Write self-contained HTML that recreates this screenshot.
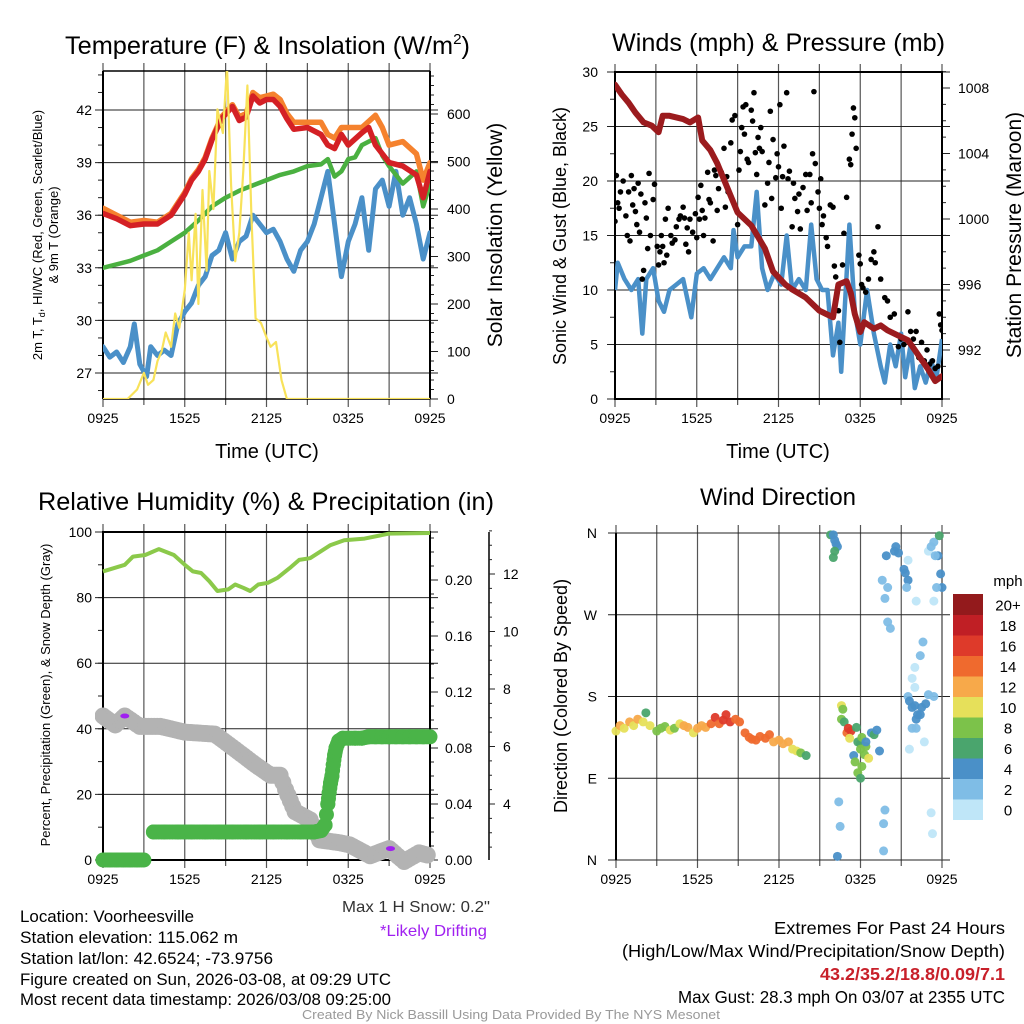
<!DOCTYPE html>
<html><head><meta charset="utf-8"><style>
html,body{margin:0;padding:0;background:#fff}
svg{display:block;font-family:"Liberation Sans",Arial,sans-serif}
</style></head><body>
<svg id="c" width="1024" height="1024" viewBox="0 0 1024 1024" xmlns="http://www.w3.org/2000/svg">
<defs>
<clipPath id="c1"><rect x="103" y="71" width="327" height="328"/></clipPath>
<clipPath id="c2"><rect x="615" y="72" width="327" height="327"/></clipPath>
<clipPath id="c3"><rect x="95" y="525" width="345" height="345"/></clipPath>
<clipPath id="c4"><rect x="606" y="525" width="345" height="345"/></clipPath>
</defs>
<g id="g1"></g>
<g id="g2"></g>
<g id="g3"></g>
<g id="g4"></g>
<text x="65" y="54" font-size="25" textLength="405" lengthAdjust="spacingAndGlyphs">Temperature (F) &amp; Insolation (W/m<tspan font-size="15" dy="-10">2</tspan><tspan dy="10">)</tspan></text>
<text x="612" y="51" font-size="25" textLength="333" lengthAdjust="spacingAndGlyphs">Winds (mph) &amp; Pressure (mb)</text>
<text x="38" y="510" font-size="25" textLength="456" lengthAdjust="spacingAndGlyphs">Relative Humidity (%) &amp; Precipitation (in)</text>
<text x="778" y="505" font-size="24" text-anchor="middle">Wind Direction</text>
<text x="267" y="458" font-size="20" text-anchor="middle">Time (UTC)</text>
<text x="778" y="458" font-size="20" text-anchor="middle">Time (UTC)</text>
<text transform="translate(42,235) rotate(-90)" font-size="13" text-anchor="middle">2m T, T<tspan font-size="9" dy="3">d</tspan><tspan dy="-3">, HI/WC (Red, Green, Scarlet/Blue)</tspan></text>
<text transform="translate(58,235) rotate(-90)" font-size="13" text-anchor="middle">&amp; 9m T (Orange)</text>
<text transform="translate(502,235) rotate(-90)" font-size="21" text-anchor="middle">Solar Insolation (Yellow)</text>
<text transform="translate(566,236) rotate(-90)" font-size="18" text-anchor="middle">Sonic Wind &amp; Gust (Blue, Black)</text>
<text transform="translate(1021,235) rotate(-90)" font-size="21" text-anchor="middle">Station Pressure (Maroon)</text>
<text transform="translate(50,695) rotate(-90)" font-size="13" text-anchor="middle">Percent, Precipitation (Green), &amp; Snow Depth (Gray)</text>
<text transform="translate(567,696) rotate(-90)" font-size="18" text-anchor="middle">Direction (Colored By Speed)</text>
<text x="342" y="912" font-size="16" fill="#333" textLength="148" lengthAdjust="spacingAndGlyphs">Max 1 H Snow: 0.2"</text>
<text x="380" y="936" font-size="16" fill="#a020f0" textLength="107" lengthAdjust="spacingAndGlyphs">*Likely Drifting</text>
<g font-size="16.5">
<text x="20" y="922" textLength="174" lengthAdjust="spacingAndGlyphs">Location: Voorheesville</text>
<text x="20" y="943" textLength="218" lengthAdjust="spacingAndGlyphs">Station elevation: 115.062 m</text>
<text x="20" y="964" textLength="253" lengthAdjust="spacingAndGlyphs">Station lat/lon: 42.6524; -73.9756</text>
<text x="20" y="985" textLength="371" lengthAdjust="spacingAndGlyphs">Figure created on Sun, 2026-03-08, at 09:29 UTC</text>
<text x="20" y="1005" textLength="371" lengthAdjust="spacingAndGlyphs">Most recent data timestamp: 2026/03/08 09:25:00</text>
</g>
<g font-size="17.5">
<text x="774" y="934" textLength="231" lengthAdjust="spacingAndGlyphs">Extremes For Past 24 Hours</text>
<text x="622" y="957" textLength="383" lengthAdjust="spacingAndGlyphs">(High/Low/Max Wind/Precipitation/Snow Depth)</text>
<text x="820" y="980" fill="#c8202a" font-weight="bold" textLength="185" lengthAdjust="spacingAndGlyphs">43.2/35.2/18.8/0.09/7.1</text>
<text x="678" y="1003" textLength="327" lengthAdjust="spacingAndGlyphs">Max Gust: 28.3 mph On 03/07 at 2355 UTC</text>
</g>
<text x="302" y="1019" font-size="13" fill="#999" textLength="418" lengthAdjust="spacingAndGlyphs">Created By Nick Bassill Using Data Provided By The NYS Mesonet</text>
</svg>
<script>
// ---- Temperature panel data (hours since 0925, value) ----
const redH=[0,1,2,3,4,5,6,6.5,7,7.5,8,8.7,9.5,10,10.5,11,11.5,12,12.5,13,13.5,14,15,16,16.5,17,17.5,18,19,19.5,20,20.5,21,22,23,23.5,24];
const redV=[36.1,35.8,35.4,35.5,35.5,36.0,37.2,38.0,38.5,39.2,40.3,41.5,42.2,41.4,41.6,42.8,42.4,42.6,42.6,42.2,41.5,40.9,41.0,40.6,40.0,39.8,40.6,40.0,40.7,41.0,40.0,39.5,39.0,38.8,38.3,37.0,38.5];
const orgH=[0,1,2,3,4,5,6,6.5,7,7.5,8,8.7,9.5,10,10.5,11,11.5,12,12.5,13,13.5,14,15,16,16.5,17,17.5,18,19,20,20.5,21,22,23,23.5,24];
const orgV=[36.4,36.0,35.6,35.7,35.6,36.1,37.3,38.1,38.6,39.3,40.4,41.6,42.3,41.6,41.8,43.0,42.7,42.8,42.9,42.6,41.8,41.3,41.3,41.3,40.6,40.4,41.0,41.0,41.0,41.7,41.0,40.0,40.2,39.5,38.0,39.0];
const grnH=[0,2,3,4,5,6,7,8,9,10,11,12,13,14,15,16,16.5,17,17.5,18,18.5,19,20,20.5,21,22,23,23.5,24];
const grnV=[33,33.4,33.7,34.0,34.5,35.0,35.7,36.5,37.0,37.4,37.7,38.0,38.3,38.5,38.8,38.9,39.2,38.2,38.5,39.2,39.3,40.0,40.4,39.4,38.8,37.8,38.5,36.5,37.8];
const bluH=[0,0.5,1,1.5,2,2.3,2.7,3.2,3.5,4,4.5,5,5.5,6,6.5,7,7.5,8,8.5,9,9.5,10,10.5,11,11.5,12,12.5,13,13.5,14,14.5,15,15.5,16,16.5,17,17.5,18,18.5,19,19.5,20,20.5,21,21.5,22,22.5,23,23.5,24];
const bluV=[28.5,27.9,28.2,27.6,28.5,29.8,27.5,26.8,28.5,28.0,28.3,28.0,29.8,30.5,31.0,32.0,32.5,33.7,34.0,35.0,33.5,34.5,34.8,36.0,35.5,35.0,35.2,34.5,33.5,32.8,34.0,34.5,35.5,37.0,38.5,35.5,32.5,34.5,35.5,37.0,34.0,37.5,38.0,36.5,38.5,36.0,37.0,35.5,33.5,35.0];
const solH=[0,1.8,2.5,3,3.3,3.7,4,4.3,4.6,5,5.3,5.6,6,6.3,6.5,6.8,7,7.3,7.6,7.8,8.1,8.4,8.8,9.1,9.4,9.7,10,10.3,10.6,10.9,11.2,11.6,12,12.3,12.7,13.1,13.5,24];
const solV=[0,0,20,55,30,40,80,100,140,110,180,150,230,350,250,390,200,440,270,480,400,610,560,700,450,290,350,480,660,380,170,160,130,110,120,40,0,0];
const tempTicks=[27,30,33,36,39,42];
const solarTicks=[0,100,200,300,400,500,600];
const timeLabels=["0925","1525","2125","0325","0925"];
// ---- Wind panel data ----
const wndH=[0,0.2,0.7,1.2,1.7,2,2.3,2.8,3.2,3.6,4,4.5,5,5.6,6,6.5,7,7.5,8,8.5,8.7,9,9.5,10,10.4,10.8,11.2,11.7,12.2,12.6,13,13.5,14,14.4,14.8,15.2,15.6,16,16.4,16.6,17.2,17.6,18,18.5,19,19.5,19.8,20.2,20.6,21,21.3,21.7,22,22.4,22.8,23.2,23.6,24];
const wndV=[10,12.5,11,10,11,6,11,12,9,8,10,10.5,11,7.5,11.5,12,11,12,13,12,15.5,13,14,14,19,12,10,11.5,10.5,15,10,11,10,16,11,10,10,4,7,2.5,16,8,5,10,6,3,1.5,5,3,6,2,5,1,3,1.5,3.5,2,5.5];
const gstH=[0,0.1,0.2,0.3,0.4,0.6,0.8,0.9,1,1.1,1.2,1.3,1.4,1.5,1.6,1.7,1.8,1.9,2,2.1,2.2,2.3,2.4,2.5,2.6,2.8,2.9,3.1,3.2,3.3,3.4,3.5,3.6,3.7,3.8,3.9,4.1,4.2,4.4,4.5,4.7,4.8,5,5.1,5.2,5.3,5.4,5.5,5.7,5.9,6,6.1,6.2,6.3,6.4,6.5,6.6,6.8,6.9,7,7.2,7.3,7.4,7.5,7.6,7.8,8,8.1,8.2,8.3,8.5,8.6,8.8,9,9.1,9.2,9.3,9.4,9.5,9.6,9.7,9.8,10,10.1,10.2,10.3,10.4,10.5,10.6,10.7,10.8,11,11.2,11.3,11.4,11.5,11.6,11.8,11.9,12,12.1,12.2,12.3,12.4,12.6,12.7,12.8,13,13.1,13.2,13.4,13.5,13.6,13.8,14,14.1,14.3,14.4,14.5,14.6,14.7,14.9,15,15.1,15.2,15.3,15.5,15.6,15.8,16,16.1,16.2,16.4,16.5,16.7,16.8,17,17.2,17.3,17.4,17.5,17.6,17.7,17.9,18,18.1,18.2,18.4,18.6,18.8,19,19.1,19.3,19.5,19.8,20,20.2,20.5,20.8,21,21.2,21.5,21.7,21.9,22.1,22.3,22.5,22.7,22.9,23.1,23.3,23.5,23.7,23.8,23.9,24];
const gstV=[16.3,20.5,18,17.5,19,20,16.8,15,19,14.5,20.5,17.8,19.3,17.2,16,19.8,15.3,18.8,11,11.8,18,16.6,13.8,20.7,15,18.3,19.7,14,12.3,13.5,15,14,12.5,16.5,13.2,17.5,15,14.3,14.6,15.8,16.5,16.8,17.6,16.6,14.2,15.7,13.5,16.5,15.3,17,14.8,18.5,16.5,19.6,17.3,15,16.6,20.8,18.3,18,14.5,21,20.5,17.3,19.3,20.8,23,17.6,20.4,19,23.5,25.6,26,16,21,22.7,24.9,26.8,24.3,27,22,21.7,26.5,25.5,28.1,22.6,20.6,24,23,24.9,22.7,17.8,19.8,21.7,26.4,18.4,23.8,20.3,22.5,21.3,27,17.5,20.4,23.2,28.1,20.2,20.9,15.8,19.8,18.4,17.2,18.8,15.6,19.4,20.6,17.3,20.6,18,22.5,28.2,21.6,19,17.5,20.2,16,16.8,14.8,14,17.8,17.6,12.2,11.2,8.1,5.2,12.3,15.2,18.5,22,21.5,24.3,26.7,25.8,23,13.2,12.4,10.5,10.2,9.8,11,12.8,13.5,12.5,15.8,11,9.3,9,7.5,7.8,4.8,5.5,5,8,6.2,5.5,6.2,3.8,5.2,3.5,4.5,3.2,3.5,2.8,3,7.8,6.8,6.3];
const prsH=[0,0.5,1,1.5,2.1,2.7,3.2,3.5,4,5,5.5,6.1,6.4,7,7.5,8,8.5,9,10,11,11.6,12.5,13,14,15,15.5,16,16.4,17,17.3,17.6,18,18.3,19,19.5,20,21,21.5,22,22.5,23,23.5,24];
const prsV=[1008.2,1007.6,1007.1,1006.5,1005.9,1005.7,1005.3,1006.3,1006.3,1006.1,1005.9,1006.2,1004.8,1004.2,1003.4,1002.4,1001.4,1000.4,999.6,998.2,996.8,996.0,995.7,995.2,994.4,994.2,994.0,996.0,996.2,995.5,994.2,993.1,993.7,993.3,993.5,993.2,992.8,992.6,992.0,991.4,990.8,990.1,990.4];
const windTicks=[0,5,10,15,20,25,30];
const presTicks=[992,996,1000,1004,1008];
// ---- Humidity panel data ----
const rhH=[0,1.6,2.2,3.1,4.1,5.2,6,6.6,7.2,7.8,8.4,9.2,9.7,10.3,10.8,11.4,12.1,12.8,13.7,14.4,15.2,16.7,17.7,19.2,21,24];
const rhV=[88,90,92.5,93,94.8,93,90,88,87.5,85,82,82.5,84,83,82,84,84.5,86,89,91.5,92,96,97.5,98,99.5,99.7];
const pcpH=[0,0.5,1,1.5,2,2.5,3,3.7,4.5,5.5,6.5,7.5,8.5,9.5,10.5,11.5,12.5,13.5,14.5,15.5,16,16.3,16.5,16.6,16.7,16.8,16.9,17,17.1,17.3,17.6,18,18.5,19,19.5,20,20.5,21,21.5,22,22.5,23,23.5,24];
const pcpV=[0,0,0,0,0,0,0,0.02,0.02,0.02,0.02,0.02,0.02,0.02,0.02,0.02,0.02,0.02,0.02,0.02,0.021,0.025,0.04,0.048,0.055,0.06,0.068,0.075,0.08,0.085,0.087,0.087,0.087,0.087,0.088,0.088,0.088,0.088,0.088,0.088,0.088,0.088,0.088,0.088];
const snowH=[0,0.9,1.6,2.7,4.2,6,8.2,9.7,11.2,12.3,13,13.4,14.1,15.2,15.9,17.4,18.1,19.6,21,22.1,23.2,24];
const snowV=[7.06,6.75,7.06,6.7,6.7,6.5,6.43,5.9,5.36,5.0,5.0,4.5,3.73,3.45,2.75,2.65,2.58,2.2,2.45,2.0,2.3,2.2];
const driftH=[1.6,21.1];
const driftV=[7.06,2.45];
const rhTicks=[0,20,40,60,80,100];
const pcpTicks=[0,0.04,0.08,0.12,0.16,0.20];
const snowTicks=[4,6,8,10,12];
// ---- Wind direction data ----
const dirH=[0,0.3,0.6,1,1.3,1.6,2,2.2,2.5,3,3.3,3.6,4,4.3,4.7,5,5.3,5.7,6,6.3,6.6,7,7.3,7.6,7.9,8.1,8.4,8.8,9.1,9.5,9.8,10,10.3,10.6,11,11.3,11.6,12,12.3,12.7,13,13.3,13.6,14,15.8,16,16.1,16.2,16.3,16.1,16,16.4,16.5,16.3,16.6,16.7,16.6,16.8,17,17.1,17.3,17.2,17.7,17.8,17.5,17.6,18,18.1,18,18.4,18.3,18.6,17.8,18.1,18,18.4,18.8,19,19.2,19.4,19.6,19.8,20,20,20.2,19.9,20.5,20.6,20.8,21.2,21.3,21.5,21.4,19.8,19.7,19.7,21.5,21.6,21.8,22,22.2,22.1,22.5,22.8,21.8,22.1,22.4,21.6,21.8,22,22.6,22.4,22,22.1,23.4,23,22.7,21.5,23,23.2,23.4,23.8,23.7,23.5,23.9,24,23.6,23.4,23.2,23.3];
const dirV=[142,148,145,152,148,155,152,162,148,142,145,147,143,145,150,148,146,140,145,148,146,150,157,150,154,160,152,155,152,140,135,133,132,136,134,138,130,132,128,130,122,120,118,115,358,358,352,348,345,340,333,64,37,4,170,166,155,152,140,145,142,134,146,130,115,108,128,135,122,125,116,112,96,103,90,130,140,138,143,120,308,288,300,262,255,335,340,345,338,320,316,308,300,55,40,10,180,175,168,170,160,155,168,172,145,145,160,122,200,190,240,225,212,285,180,182,130,330,340,345,350,357,335,335,315,300,300,285,52,29];
const dirS=[11,12,11,12,10,12,11,6,10,8,9,8,10,9,11,12,12,11,12,13,12,14,16,15,17,17,16,15,14,14,14,15,14,14,15,14,13,13,12,13,11,10,8,7,6,4,4,4,4,6,6,3,3,4,10,8,8,7,14,16,16,10,6,6,4,8,7,8,8,8,8,10,8,8,6,4,4,6,4,4,2,2,2,2,2,4,4,4,4,4,4,4,2,2,2,2,2,4,4,4,4,4,4,4,2,2,4,0,0,0,2,2,0,0,2,2,0,0,0,2,2,6,4,2,4,4,2,0,0,0];
const dirTickLabels=["N","E","S","W","N"];
const speedBins=["0","2","4","6","8","10","12","14","16","18","20+"];
const speedColors=["#bfe6f8","#7fbde6","#4a90c8","#4aa56d","#7cc24a","#e6e05a","#f7a94a","#ef6a2e","#de3a2a","#c01f25","#931a1c"];

const NS="http://www.w3.org/2000/svg";
function mk(tag,attrs,parent,txt){const e=document.createElementNS(NS,tag);for(const k in attrs)e.setAttribute(k,attrs[k]);if(txt!==undefined)e.textContent=txt;parent.appendChild(e);return e;}
function lin(d0,d1,r0,r1){return v=>r0+(v-d0)*(r1-r0)/(d1-d0);}
function pathOf(hs,vs,sx,sy){return hs.map((h,i)=>(i?"L":"M")+sx(h).toFixed(1)+","+sy(vs[i]).toFixed(1)).join("");}

function frame(g,x0,x1,y0,y1,name){
  for(let k=0;k<=8;k++){const x=x0+k*(x1-x0)/8;
    const l=mk("line",{x1:x,x2:x,y1:y0-8,y2:y1+(k%2?6:8),stroke:"#555","stroke-width":1.2},g);
    
    }
  for(let k=0;k<5;k++){const x=x0+k*(x1-x0)/4;
    const t=mk("text",{x:x,y:y1+24,"font-size":14,"text-anchor":"middle"},g,timeLabels[k]);
    
    }
}
function ygrid(g,x0,x1,y,label,lx){
  const l=mk("line",{x1:x0-8,x2:x1+8,y1:y,y2:y,stroke:"#222","stroke-width":1},g);
  
  
  if(label!==null){const t=mk("text",{x:lx,y:y+5,"font-size":14,"text-anchor":"end"},g,label);
  
  }
}
function rlab(g,x,y,label){const t=mk("text",{x:x,y:y+5,"font-size":14},g,label);
  
  }
function minor(g,x,y,len){mk("line",{x1:x,x2:x+len,y1:y,y2:y,stroke:"#222","stroke-width":1},g);}
function box(g,x0,x1,y0,y1){const r=mk("rect",{x:x0,y:y0,width:x1-x0,height:y1-y0,fill:"none",stroke:"#000","stroke-width":2},g);
  
  }

// ===== Panel 1 =====
(function(){
  const g=document.getElementById('g1');
  const x0=103,x1=430,y0=71,y1=399;
  const sx=lin(0,24,x0,x1), sy=lin(27,42,373,110), ss=lin(0,600,399,114);
  frame(g,x0,x1,y0,y1);
  tempTicks.forEach(t=>ygrid(g,x0,x1,sy(t),String(t),92));
  for(let t=26;t<=44;t++) minor(g,x0-5,sy(t),5);
  solarTicks.forEach(s=>{minor(g,x1,ss(s),8);rlab(g,447,ss(s),String(s));});
  for(let s=0;s<=680;s+=20) minor(g,x1,ss(s),4);
  mk("line",{x1:x0,x2:x1,y1:y0,y2:y0,stroke:"#000","stroke-width":1.5},g);
  mk("line",{x1:x0,x2:x1,y1:y1,y2:y1,stroke:"#000","stroke-width":1.5},g);
  mk("line",{x1:x0,x2:x0,y1:y0,y2:y1,stroke:"#000","stroke-width":2},g);
  mk("line",{x1:x1,x2:x1,y1:y0,y2:y1,stroke:"#000","stroke-width":2},g);
  const c=mk("g",{"clip-path":"url(#c1)",fill:"none","stroke-linejoin":"round","stroke-linecap":"round"},g);
  const b=mk("path",{d:pathOf(bluH,bluV,sx,sy),stroke:"#4a90c8","stroke-width":5},c);
  
  
  const gr=mk("path",{d:pathOf(grnH,grnV,sx,sy),stroke:"#4ab040","stroke-width":4.5},c);
  
  
  const o=mk("path",{d:pathOf(orgH,orgV,sx,sy),stroke:"#f5822e","stroke-width":5.5},c);
  
  
  const r=mk("path",{d:pathOf(redH,redV,sx,sy),stroke:"#d42025","stroke-width":5.5},c);
  
  
  const y=mk("path",{d:pathOf(solH,solV,sx,ss),stroke:"#f8e25a","stroke-width":2.2},c);
  
  
})();

// ===== Panel 2 =====
(function(){
  const g=document.getElementById('g2');
  const x0=615,x1=942,y0=72,y1=399;
  const sx=lin(0,24,x0,x1), sw=lin(0,30,399,72), sp=lin(992,1008,350,88);
  frame(g,x0,x1,y0,y1);
  windTicks.forEach(w=>ygrid(g,x0,x1,sw(w),String(w),598));
  for(let w=0;w<=30;w+=2.5) minor(g,x0-5,sw(w),5);
  presTicks.forEach(p=>{minor(g,x1,sp(p),8);rlab(g,958,sp(p),String(p));});
  for(let p=991;p<=1009;p++) minor(g,x1,sp(p),4);
  box(g,x0,x1,y0,y1);
  const c=mk("g",{"clip-path":"url(#c2)"},g);
  const b=mk("path",{d:pathOf(wndH,wndV,sx,sw),stroke:"#4a90c8","stroke-width":4.5,fill:"none","stroke-linejoin":"round"},c);
  
  
  gstH.forEach((h,i)=>{const d=mk("circle",{cx:sx(h),cy:sw(gstV[i]),r:2.8,fill:"#000"},c);
    
    });
  const p=mk("path",{d:pathOf(prsH,prsV,sx,sp),stroke:"#9b1b1e","stroke-width":6,fill:"none","stroke-linejoin":"round","stroke-linecap":"round"},c);
  
  
})();

// ===== Panel 3 =====
(function(){
  const g=document.getElementById('g3');
  const x0=103,x1=430,y0=532,y1=860;
  const sx=lin(0,24,x0,x1), sr=lin(0,100,860,532), sp=lin(0,0.2,860,580), sn=lin(4,8,804,689);
  frame(g,x0,x1,y0,y1);
  rhTicks.forEach(r=>ygrid(g,x0,x1,sr(r),String(r),92));
  for(let r=0;r<=100;r+=10) minor(g,x0-5,sr(r),5);
  pcpTicks.forEach(p=>{minor(g,x1,sp(p),8);rlab(g,445,sp(p),p.toFixed(2));});
  for(let p=0;p<=0.235;p+=0.01) minor(g,x1,sp(p),4);
  const ax=mk("line",{x1:489,x2:489,y1:y0,y2:y1,stroke:"#000","stroke-width":1.5},g);
  
  
  snowTicks.forEach(s=>{minor(g,489,sn(s),6);const t=mk("text",{x:503,y:sn(s)+5,"font-size":14},g,String(s));
    
    });
  for(let s=2.5;s<=13.5;s+=0.5) minor(g,489,sn(s),3);
  box(g,x0,x1,y0,y1);
  const c=mk("g",{"clip-path":"url(#c3)"},g);
  for(let i=0;i<snowH.length-1;i++){
    const n=Math.max(2,Math.ceil(Math.abs(sx(snowH[i+1])-sx(snowH[i]))/3));
    for(let k=0;k<n;k++){const f=k/n;const h=snowH[i]+(snowH[i+1]-snowH[i])*f;const v=snowV[i]+(snowV[i+1]-snowV[i])*f;
      const d=mk("circle",{cx:sx(h),cy:sn(v),r:8.5,fill:"#b3b3b3"},c);
      
      }}
  for(let i=0;i<pcpH.length-1;i++){
    const n=Math.max(2,Math.ceil(Math.abs(sx(pcpH[i+1])-sx(pcpH[i]))/3));
    for(let k=0;k<=n;k++){const f=k/n;const h=pcpH[i]+(pcpH[i+1]-pcpH[i])*f;const v=pcpV[i]+(pcpV[i+1]-pcpV[i])*f;
      if(pcpV[i+1]>pcpV[i]&&pcpV[i]===0&&f<1)continue;
      const d=mk("circle",{cx:sx(h),cy:sp(v),r:7.5,fill:"#4ab448"},c);
      
      }}
  driftH.forEach((h,i)=>{const d=mk("ellipse",{cx:sx(h),cy:sn(driftV[i]),rx:4.5,ry:2.5,fill:"#a020f0"},c);
    
    });
  const r=mk("path",{d:pathOf(rhH,rhV,sx,sr),stroke:"#8bc94a","stroke-width":4,fill:"none","stroke-linejoin":"round"},c);
  
  
})();

// ===== Panel 4 =====
(function(){
  const g=document.getElementById('g4');
  const x0=616,x1=942,y0=533,y1=860;
  const sx=lin(0,24,x0,x1), sd=lin(0,360,860,533);
  frame(g,x0,x1,y0,y1);
  dirTickLabels.forEach((l,i)=>ygrid(g,x0,x1,sd(i*90),l,597));
  mk("line",{x1:x0,x2:x0,y1:y0,y2:y1,stroke:"#000","stroke-width":2},g);
  mk("line",{x1:x1,x2:x1,y1:y0,y2:y1,stroke:"#555","stroke-width":1.2},g);
  const c=mk("g",{"clip-path":"url(#c4)"},g);
  dirH.forEach((h,i)=>{const k=Math.min(10,Math.max(0,Math.floor(dirS[i]/2)));
    const d=mk("circle",{cx:sx(h),cy:sd(dirV[i]),r:4.5,fill:speedColors[k],"fill-opacity":0.95},c);
    
    });
  const lg=mk("g",{},g);
  
  
  const bh=20.5, top=594;
  speedBins.forEach((lab,i)=>{const y=top+(10-i)*bh;
    const r=mk("rect",{x:953,y:y,width:30,height:bh+0.5,fill:speedColors[i]},lg);
    
    
    const t=mk("text",{x:1008,y:y+bh/2+6,"font-size":15,"text-anchor":"middle"},lg,lab);
    
    });
  const u=mk("text",{x:1008,y:586,"font-size":15,"text-anchor":"middle"},lg,"mph");
  
  
})();
</script>
</body></html>
